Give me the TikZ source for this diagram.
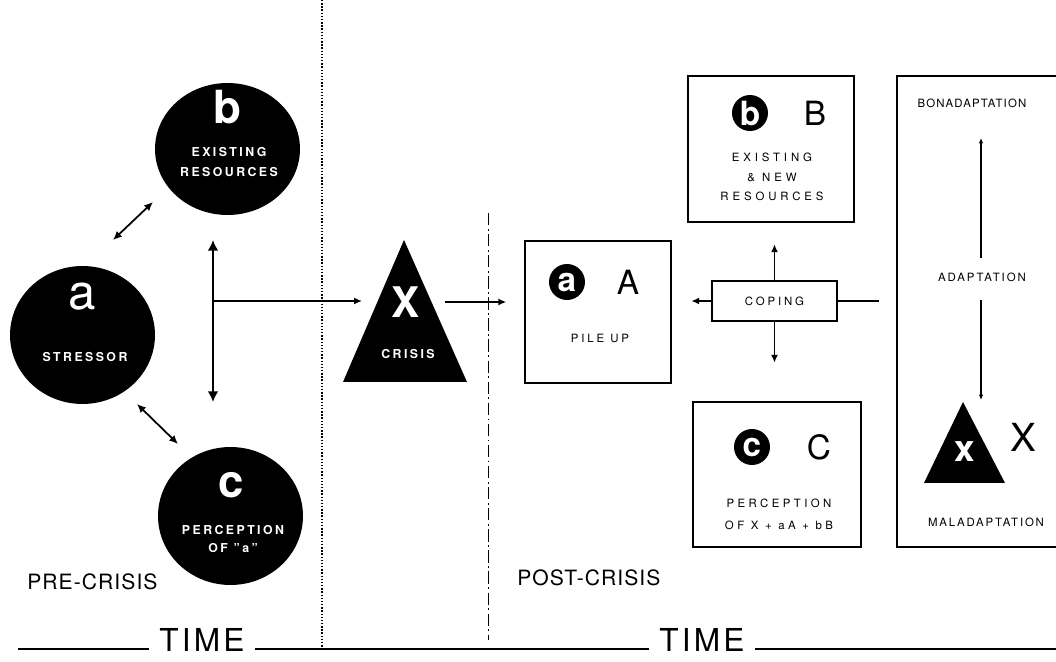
\documentclass[tikz,border=0pt]{standalone}
\usepackage{fontspec}
\setmainfont{TeX Gyre Heros}
\usetikzlibrary{arrows.meta,shapes.geometric}

\tikzset{
  disc/.style={ellipse, fill=black, inner sep=0pt, minimum width=2.9cm, minimum height=2.76cm},
  bigletter/.style={text=white, inner sep=0pt, font=\bfseries\fontsize{26}{26}\selectfont},
  disclabel/.style={text=white, align=center, inner sep=0pt,
    font=\bfseries\fontsize{7}{11.3}\selectfont\addfontfeature{LetterSpace=20}},
  badge/.style={circle, fill=black, text=white, inner sep=0pt, minimum size=0.72cm,
    font=\bfseries\fontsize{19}{19}\selectfont},
  panel/.style={draw, line width=0.8pt, inner sep=0pt},
  boxlabel/.style={align=center, inner sep=0pt,
    font=\fontsize{6.5}{11}\selectfont\addfontfeature{LetterSpace=25}},
  caplabel/.style={inner sep=0pt, font=\fontsize{19}{19}\selectfont},
  phase/.style={inner sep=0pt, anchor=west,
    font=\fontsize{12}{14}\selectfont\addfontfeature{LetterSpace=5}},
  timelabel/.style={inner sep=6pt, font=\fontsize{18}{18}\selectfont\addfontfeature{LetterSpace=10}},
  dbl/.style={{Latex[length=5pt,width=4.5pt]}-{Latex[length=5pt,width=4.5pt]}, line width=1pt},
  bigdbl/.style={{Latex[length=6pt,width=6pt]}-{Latex[length=6pt,width=6pt]}, line width=1.1pt},
  arr/.style={-{Latex[length=4.5pt,width=4pt]}, line width=0.9pt},
  thinarr/.style={-{Latex[length=3pt,width=2.5pt]}, line width=0.7pt},
  timeline/.style={line width=0.9pt},
}

\begin{document}
\begin{tikzpicture}[x=0.02cm, y=-0.02cm]
  \fill[white] (0,0) rectangle (1056,662);
  \useasboundingbox (0,0) rectangle (1056,662);

  % 区切り線
  \draw[densely dotted, line width=0.8pt] (322,0) -- (322,648);
  \draw[line width=0.5pt, dash pattern=on 7pt off 2pt on 1pt off 2pt] (488,213) -- (488,640);

  % 危機以前
  \node[disc] (a) at (82.5,335) {};
  \node[disc, minimum height=2.64cm] (b) at (227.5,149) {};
  \node[disc] (c) at (230.5,516) {};
  \node[bigletter, font=\fontsize{28}{28}\selectfont] (la) at (82,297) {a};
  \node[bigletter] (lb) at (227,107) {b};
  \node[bigletter] (lc) at (231,485) {c};
  \node[disclabel] (tb) at (229,162) {EXISTING\\RESOURCES};
  \node[disclabel] (ta) at (85,357) {STRESSOR};
  \node[disclabel, font=\bfseries\fontsize{7}{10.2}\selectfont\addfontfeature{LetterSpace=20}]
    (tc) at (233,539) {PERCEPTION\\OF "a"};

  \coordinate (ab1) at (113,240);
  \coordinate (ab2) at (153,202);
  \coordinate (ac1) at (137,404);
  \coordinate (ac2) at (178,444);
  \coordinate (bc1) at (213,240);
  \coordinate (bc2) at (213,402);
  \coordinate (fork) at (213,301);
  \draw[dbl] (ab1) -- (ab2);
  \draw[dbl] (ac1) -- (ac2);
  \draw[bigdbl] (bc1) -- (bc2);

  % 危機
  \coordinate (xtop) at (404,240);
  \coordinate (xleft) at (343,382);
  \coordinate (xright) at (467,382);
  \fill (xtop) -- (xleft) -- (xright) -- cycle;
  \node[bigletter, font=\bfseries\fontsize{24}{24}\selectfont] (crisis) at (406,302) {X};
  \node[disclabel] (crisislbl) at (408,354) {CRISIS};
  \coordinate (crisisin) at (362,301);
  \coordinate (crisisout) at (445,302);
  \draw[arr] (fork) -- (crisisin);

  % 危機以後
  \node[panel, minimum width=2.92cm, minimum height=2.84cm] (pile) at (598,312) {};
  \node[badge] (ba) at (567,282) {a};
  \node[caplabel] (bigA) at (628,282) {A};
  \node[boxlabel] (pileup) at (600,338) {PILE UP};
  \draw[arr, shorten >=0.36cm] (crisisout) -- (crisisout -| pile.west);

  \node[panel, minimum width=3.32cm, minimum height=2.92cm] (res) at (771,149) {};
  \node[badge] (bb) at (750,113) {b};
  \node[caplabel] (bigB) at (815,113) {B};
  \node[boxlabel, font=\fontsize{6.5}{11}\selectfont\addfontfeature{LetterSpace=34}]
    (restxt) at (772,177) {EXISTING\\\& NEW\\RESOURCES};

  \node[panel, boxlabel, minimum width=2.5cm, minimum height=0.8cm] (coping) at (774.5,301) {COPING};
  \draw[arr] (coping.north) -- ++(0,-36);
  \draw[arr] (coping.south) -- ++(0,41);
  \draw[arr] (coping.west) -- ++(-20,0);
  \draw[line width=0.9pt] (coping.east) -- ++(41,0);

  \node[panel, minimum width=3.36cm, minimum height=2.9cm] (perc) at (777,474.5) {};
  \node[badge] (bc) at (752,447) {c};
  \node[caplabel] (bigC) at (819,447) {C};
  \node[boxlabel, font=\fontsize{6.5}{12.5}\selectfont\addfontfeature{LetterSpace=30}]
    (perctxt) at (779,514) {PERCEPTION\\OF X + aA + bB};

  % 適応
  \node[panel, minimum width=3.3cm, minimum height=9.42cm] (adapt) at (979.5,311.5) {};
  \node[boxlabel, font=\fontsize{6.5}{11}\selectfont\addfontfeature{LetterSpace=10}]
    (bon) at (972,103) {BONADAPTATION};
  \node[boxlabel, font=\fontsize{6.5}{11}\selectfont\addfontfeature{LetterSpace=17}]
    (ada) at (982,277) {ADAPTATION};
  \node[boxlabel, font=\fontsize{6.5}{11}\selectfont\addfontfeature{LetterSpace=16}]
    (mal) at (986,522) {MALADAPTATION};
  \coordinate (up0) at (981,258);
  \coordinate (up1) at (981,138);
  \coordinate (dn0) at (981,300);
  \coordinate (dn1) at (981,400);
  \draw[thinarr] (up0) -- (up1);
  \draw[thinarr] (dn0) -- (dn1);
  \fill (963,402) -- (924,483) -- (1005,483) -- cycle;
  \node[bigletter, font=\bfseries\fontsize{21}{21}\selectfont] (xs) at (965,452) {x};
  \node[caplabel, font=\fontsize{22}{22}\selectfont] (bigX) at (1023,437) {X};

  % 時間軸
  \node[phase] (pre) at (27,582) {PRE-CRISIS};
  \node[phase] (post) at (517,578) {POST-CRISIS};
  \node[timelabel] (time1) at (202,640) {TIME};
  \node[timelabel] (time2) at (702,640) {TIME};
  \coordinate (t0) at (18,649);
  \coordinate (t3) at (1056,649);
  \draw[timeline] (t0) -- (t0 -| time1.west);
  \draw[timeline] (time1.east |- t0) -- (time2.west |- t0);
  \draw[timeline] (time2.east |- t0) -- (t3);
\end{tikzpicture}
\end{document}
